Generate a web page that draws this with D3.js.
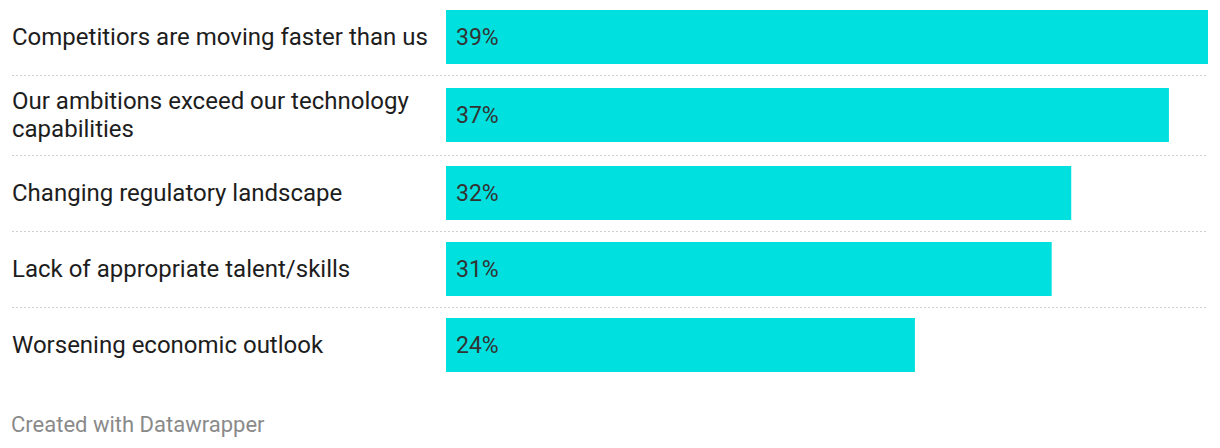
<!DOCTYPE html>
<html>
<head>
<meta charset="utf-8">
<script src="https://cdn.jsdelivr.net/npm/d3@7"></script>
<style>
  html, body { margin: 0; padding: 0; background: #fff; }
  svg { display: block; font-family: Roboto, "Noto Sans", sans-serif; }
</style>
</head>
<body>
<svg id="chart" width="1220" height="448"></svg>
<script>
const categories = [
  ["Competitiors are moving faster than us"],
  ["Our ambitions exceed our technology", "capabilities"],
  ["Changing regulatory landscape"],
  ["Lack of appropriate talent/skills"],
  ["Worsening economic outlook"]
];
const values = [39, 37, 32, 31, 24];
const valueLabels = ["39%", "37%", "32%", "31%", "24%"];
const footer = "Created with Datawrapper";

const svg = d3.select("#chart");
const labelX = 12, barX0 = 446, barX1 = 1208;
const barH = 54, lineH = 28, rowPad = 22;
const labelSize = 24, valueSize = 23, baseOff = 7.5;

const x = d3.scaleLinear().domain([0, d3.max(values)]).range([barX0, barX1]);

// compute row layout
let y = -1;
const rows = categories.map((lines, i) => {
  const block = Math.max(barH, lines.length * (lineH + 1));
  const h = block + rowPad;
  const r = { top: y, h, center: y + h / 2, lines, v: values[i], lab: valueLabels[i] };
  y += h;
  return r;
});

const g = svg.append("g");

// separators
g.selectAll("line.sep").data(rows.slice(0, -1)).join("line")
  .attr("class", "sep")
  .attr("x1", labelX).attr("x2", barX1)
  .attr("y1", d => d.top + d.h + 0.5).attr("y2", d => d.top + d.h + 0.5)
  .attr("stroke", "#cfcfcf").attr("stroke-width", 1)
  .attr("stroke-dasharray", "2,2");

// bars
g.selectAll("rect.bar").data(rows).join("rect")
  .attr("class", "bar")
  .attr("x", x(0))
  .attr("y", d => d.center - barH / 2)
  .attr("width", d => x(d.v) - x(0))
  .attr("height", barH)
  .attr("fill", "#00e0de");

// value labels
g.selectAll("text.val").data(rows).join("text")
  .attr("class", "val")
  .attr("x", x(0) + 10)
  .attr("y", d => d.center + baseOff)
  .attr("font-size", valueSize)
  .attr("fill", "#333")
  .text(d => d.lab);

// category labels
const lab = g.selectAll("text.cat").data(rows).join("text")
  .attr("class", "cat")
  .attr("x", labelX)
  .attr("font-size", labelSize)
  .attr("fill", "#1d1d1d");
lab.each(function(d) {
  const n = d.lines.length;
  const t = d3.select(this);
  d.lines.forEach((s, j) => {
    t.append("tspan")
      .attr("x", labelX)
      .attr("y", d.center + (j - (n - 1) / 2) * lineH + baseOff)
      .text(s);
  });
});

// footer
svg.append("text")
  .attr("x", 11)
  .attr("y", 432)
  .attr("font-size", 22)
  .attr("fill", "#8a8a8a")
  .text(footer);
</script>
</body>
</html>
